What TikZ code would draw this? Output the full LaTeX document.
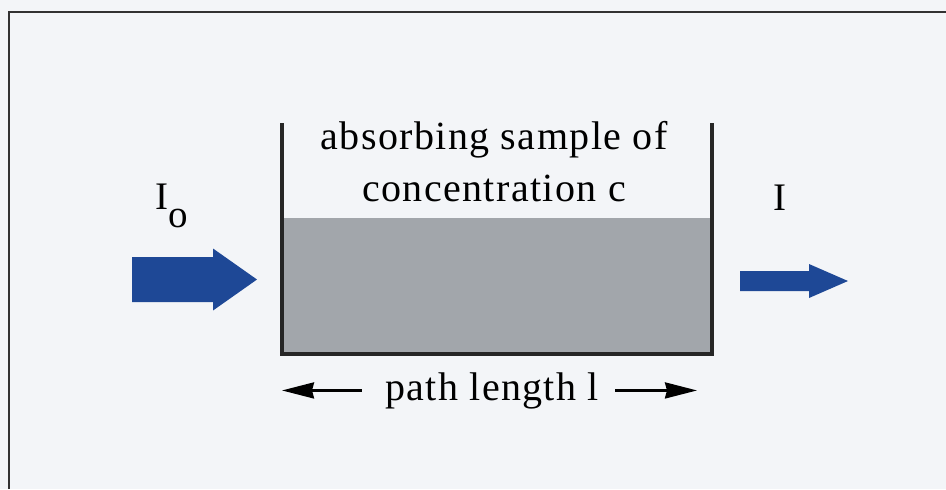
\documentclass[tikz,border=0pt]{standalone}
\usepackage{fontspec}
\setmainfont{Liberation Serif}
\usetikzlibrary{arrows.meta}
\definecolor{paper}{RGB}{243,245,248}
\definecolor{beam}{RGB}{30,72,150}
\definecolor{sample}{RGB}{162,166,171}
\definecolor{frame}{RGB}{50,50,50}
\begin{document}
\begin{tikzpicture}[x=0.5pt, y=-0.5pt,
	textlabel/.style={font=\fontsize{20}{26}\selectfont\addfontfeature{LetterSpace=3.5}, inner sep=0pt},
	intensity/.style={font=\fontsize{19.5}{20}\selectfont, inner sep=0pt},
	wall/.style={line width=2pt, draw=black!85},
	dim/.style={line width=1.3pt, -{Stealth[length=16pt,width=8pt,inset=1pt]}}]
	\fill[paper] (0,0) rectangle (946,489);
	\useasboundingbox (0,0) rectangle (946,489);
	\draw[frame, line width=1pt] (9,489)--(9,12)--(946,12);
	\path
	(282,123) coordinate (A)
	(712,123) coordinate (B)
	(282,354) coordinate (C)
	(712,354) coordinate (D);
	\fill[sample] (282,218) rectangle (D);
	\draw[wall] (A)--(C)--(D)--(B);
	% incoming and outgoing beams
	\foreach \a/\b/\t/\y/\w/\h in {132/213/257/279.5/22.5/31, 740/809/848/281/10/17}
	\fill[beam] (\a,\y-\w)--(\b,\y-\w)--(\b,\y-\h)--(\t,\y)--(\b,\y+\h)--(\b,\y+\w)--(\a,\y+\w)--cycle;
	\node[textlabel, align=center, anchor=north] (sample) at (494,121) {absorbing sample of\\concentration c};
	\node[intensity, anchor=base west] (Io) at (155,209) {I\raisebox{-9pt}{o}};
	\node[intensity, anchor=base west] (I) at (773,210) {I};
	\node[textlabel, anchor=base] (plen) at (492,400) {path length l};
	\draw[dim] ([xshift=-11.5pt]plen.west) -- (plen.west -| A);
	\draw[dim] ([xshift=8pt]plen.east) -- ([xshift=-7.5pt]plen.east -| B);
\end{tikzpicture}
\end{document}
